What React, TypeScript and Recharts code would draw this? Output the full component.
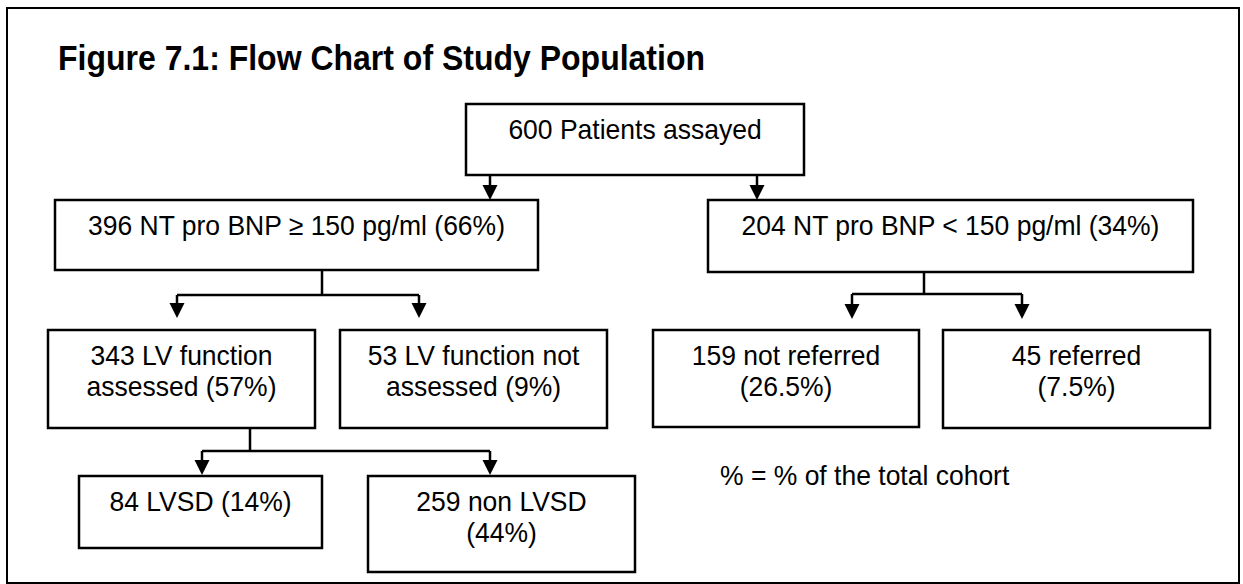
import { ComposedChart, ReferenceArea, ReferenceLine, Scatter, XAxis, YAxis } from "recharts";

const FONT = '"Liberation Sans", Arial, Helvetica, sans-serif';
const W = 1243;
const H = 584;

// flowchart contents
const titleText = "Figure 7.1: Flow Chart of Study Population";
const noteText = "% = % of the total cohort";

const boxLabels: string[][] = [
  ["600 Patients assayed"],
  ["396 NT pro BNP ≥ 150 pg/ml (66%)"],
  ["204 NT pro BNP < 150 pg/ml (34%)"],
  ["343 LV function", "assessed (57%)"],
  ["53 LV function not", "assessed (9%)"],
  ["159 not referred", "(26.5%)"],
  ["45 referred", "(7.5%)"],
  ["84 LVSD (14%)"],
  ["259 non LVSD", "(44%)"],
];

// layout in the chart's own coordinate space (x: 0..1243, y: 0..584 top-down)
const boxFrames = [
  { x1: 466, x2: 804, y1: 104, y2: 175 },
  { x1: 55, x2: 538, y1: 200, y2: 270 },
  { x1: 708, x2: 1193, y1: 200, y2: 272 },
  { x1: 48, x2: 315, y1: 330, y2: 428 },
  { x1: 340, x2: 607, y1: 330, y2: 428 },
  { x1: 653, x2: 919, y1: 330, y2: 427 },
  { x1: 943, x2: 1210, y1: 330, y2: 428 },
  { x1: 79, x2: 322, y1: 476, y2: 548 },
  { x1: 368, x2: 635, y1: 476, y2: 572 },
];

const outerFrame = { x1: 7, x2: 1239, y1: 8, y2: 583 };

const connectors: [number, number, number, number][] = [
  [490, 175, 490, 195],
  [757, 175, 757, 195],
  [322, 270, 322, 295],
  [177, 295, 419, 295],
  [177, 295, 177, 313],
  [419, 295, 419, 313],
  [924, 272, 924, 294],
  [852, 294, 1022, 294],
  [852, 294, 852, 314],
  [1022, 294, 1022, 314],
  [250, 428, 250, 451],
  [202, 451, 490, 451],
  [202, 451, 202, 470],
  [490, 451, 490, 470],
];

const arrowTips = [
  { x: 490, y: 200 },
  { x: 757, y: 200 },
  { x: 177, y: 318 },
  { x: 419, y: 318 },
  { x: 852, y: 319 },
  { x: 1022, y: 319 },
  { x: 202, y: 475 },
  { x: 490, y: 475 },
];

type TextRow = { x: number; y: number; text: string; anchor: string; size: number; weight: number; stretch: number };

const textRows: TextRow[] = [
  { x: 58, y: 70, text: titleText, anchor: "start", size: 32, weight: 700, stretch: 1.12 },
  { x: 720, y: 485, text: noteText, anchor: "start", size: 26.5, weight: 400, stretch: 1.05 },
  ...boxLabels.flatMap((lines, i) => {
    const f = boxFrames[i];
    return lines.map((text, j) => ({
      x: (f.x1 + f.x2) / 2,
      y: f.y1 + 35 + j * 31,
      text,
      anchor: "middle",
      size: 26.5,
      weight: 400,
      stretch: 1.05,
    }));
  }),
];

function ArrowHead(props: any) {
  const { cx, cy } = props;
  const hw = 7.5;
  const h = 15;
  return <polygon points={`${cx - hw},${cy - h} ${cx + hw},${cy - h} ${cx},${cy}`} fill="#000" />;
}

function TextMark(props: any) {
  const { cx, cy, payload } = props;
  // scanned original is slightly taller than plain Arial, so stretch vertically around the baseline
  return (
    <text
      x={0}
      y={0}
      transform={`translate(${cx},${cy}) scale(1,${payload.stretch})`}
      textAnchor={payload.anchor}
      fontFamily={FONT}
      fontSize={payload.size}
      fontWeight={payload.weight}
      fill="#000"
    >
      {payload.text}
    </text>
  );
}

export default function App() {
  return (
    <div style={{ position: "absolute", left: 0, top: 0, width: W, height: H, background: "#fff" }}>
      <ComposedChart width={W} height={H} margin={{ top: 0, right: 0, bottom: 0, left: 0 }}>
        <XAxis type="number" dataKey="x" domain={[0, W]} allowDataOverflow hide />
        <YAxis type="number" dataKey="y" domain={[0, H]} reversed allowDataOverflow hide />
        <ReferenceArea
          x1={outerFrame.x1}
          x2={outerFrame.x2}
          y1={outerFrame.y1}
          y2={outerFrame.y2}
          fill="none"
          stroke="#000"
          strokeWidth={2}
          ifOverflow="visible"
        />
        {boxFrames.map((f, i) => (
          <ReferenceArea
            key={`box-${i}`}
            x1={f.x1}
            x2={f.x2}
            y1={f.y1}
            y2={f.y2}
            fill="none"
            stroke="#000"
            strokeWidth={2.5}
            ifOverflow="visible"
          />
        ))}
        {connectors.map(([xa, ya, xb, yb], i) => (
          <ReferenceLine
            key={`link-${i}`}
            segment={[
              { x: xa, y: ya },
              { x: xb, y: yb },
            ]}
            stroke="#000"
            strokeWidth={2.5}
            ifOverflow="visible"
          />
        ))}
        <Scatter data={arrowTips} shape={ArrowHead} isAnimationActive={false} />
        <Scatter data={textRows} shape={TextMark} isAnimationActive={false} />
      </ComposedChart>
    </div>
  );
}
